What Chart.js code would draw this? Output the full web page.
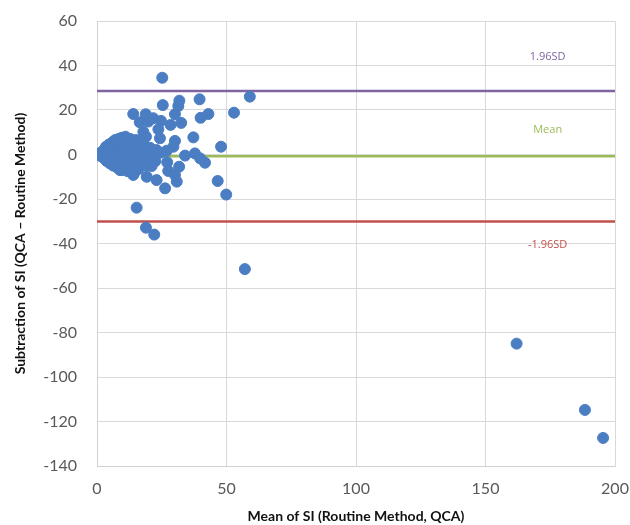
<!DOCTYPE html>
<html lang="en">
<head>
  <meta charset="UTF-8">
  <title>Bland-Altman SI</title>
  <script src="https://cdn.jsdelivr.net/npm/chart.js"></script>
  <style>
    html, body { margin: 0; padding: 0; background: #fff; }
    #wrap { width: 630px; height: 525px; }
  </style>
</head>
<body>
  <div id="wrap"><canvas id="baChart" width="630" height="525"></canvas></div>

  <script>
    // mean of the two methods (x) and their difference (y)
    const meanSI = [
      0.5, 1, 1.5, 2, 2.2, 2.8, 3, 3,
      3.5, 3.8, 4, 4.3, 4.6, 5, 5.2, 5.5, 5.8, 6, 6,
      6.3, 6.5, 6.8, 7, 7.2, 7.4, 7.7, 8, 8, 8.3, 8.5, 8.8, 9, 9,
      9.5, 9.6, 9.8, 10, 10.3, 10.5, 10.8, 11, 11, 11.3, 11.6, 11.8, 12,
      12.3, 12.5, 12.8, 13, 13.2, 13.5, 13.8, 14, 14.2, 14.5, 14.8, 15,
      15.3, 15.6, 16, 16.3, 16.6, 17, 17.4, 17.8, 18.2, 18.6, 19, 19.5, 20, 20.5,
      21.5, 23, 22.5, 24.5,
      25.2, 59, 25.4, 31.8, 31.4, 39.6, 14, 18.8, 30.1, 43, 52.9, 40,
      16.5, 19.8, 21.7, 24.7, 28.4, 32.5, 17.9, 23.7, 18.9, 24.3, 30.1, 37.2,
      29.5, 26.9, 47.9, 34, 37.8, 39.8, 41.7, 21.1, 27.1, 31.7, 27.5, 30.1,
      30.8, 23, 26.3, 19.2, 14, 8.9, 46.6, 49.9, 15.3, 18.9, 22.1,
      57.1, 162, 188.4, 195.4
    ];
    const diffSI = [
      0.2, -0.5, 0.8, -1, 1.5, 0, -2, 2.2,
      3.5, -3, 1, -1.2, 4.5, -4, 2.3, 0, -2.5, 5.5, 3,
      -5, 1.5, -1, 6.5, 4, -3.5, 2, -6, 0.5, 7, -2, 5, -4.5, 3,
      7.5, -7, 1, -1.5, 5.5, -5.5, 3.5, 8, -3, 0, 6, -7.5, 2,
      -4, 4.5, 7, -1, -6, 1.5, 5.5, -2.5, 3, -8, 0, 6.5,
      -4, 2, -6.5, 4, -1.5, 1, -3, 5, -0.5, 2.5, -5, 1, -2, 3,
      -0.5, 2, -3, 0.8,
      34.5, 26, 22.2, 24.2, 21.8, 24.8, 18.2, 18.1, 18.1, 18.2, 18.8, 16.5,
      14.5, 14.8, 16.3, 15.1, 13.3, 14.2, 10.2, 11.3, 8, 7.3, 6.1, 7.7,
      3.5, 1.7, 3.5, -0.5, 0.5, -1.7, -3.7, -5.2, -3.5, -5.5, -7.4, -9.2,
      -12.2, -11.5, -15.2, -10, -9.2, -7, -11.9, -18, -23.9, -32.9, -36,
      -51.5, -85, -114.8, -127.4
    ];

    // limits of agreement
    const refNames = ['1.96SD', 'Mean', '-1.96SD'];
    const refValues = [28.5, -0.8, -30.1];
    const refColors = ['#8064a2', '#9bbb59', '#c0504d'];
    const refLabelY = [43.8, 11, -40.7];
    const refLabelX = 174;

    const xTicks = [0, 50, 100, 150, 200];
    const yTicks = [-140, -120, -100, -80, -60, -40, -20, 0, 20, 40, 60];

    const points = meanSI.map((m, i) => ({ x: m, y: diffSI[i] }));

    const refSets = refValues.map((v, i) => ({
      type: 'line',
      label: refNames[i],
      data: [{ x: xTicks[0], y: v }, { x: xTicks[xTicks.length - 1], y: v }],
      borderColor: refColors[i],
      borderWidth: 2.5,
      pointRadius: 0,
      fill: false,
      order: 2
    }));

    const refLabels = {
      id: 'refLabels',
      afterDatasetsDraw(chart) {
        const { ctx, scales } = chart;
        ctx.save();
        ctx.font = '11px "Open Sans", sans-serif';
        ctx.textAlign = 'center';
        ctx.textBaseline = 'middle';
        refNames.forEach((name, i) => {
          ctx.fillStyle = refColors[i];
          ctx.fillText(name, scales.x.getPixelForValue(refLabelX), scales.y.getPixelForValue(refLabelY[i]));
        });
        ctx.restore();
      }
    };

    // let the layout padding alone decide the plot edges
    function noOverhang(s) {
      s.paddingTop = 0;
      s.paddingBottom = 0;
      s.paddingLeft = 0;
      s.paddingRight = 0;
    }

    const ctx = document.getElementById('baChart').getContext('2d');
    new Chart(ctx, {
      type: 'scatter',
      data: {
        datasets: [
          {
            label: 'SI',
            data: points,
            backgroundColor: '#4a7dc2',
            borderColor: '#4a7dc2',
            pointRadius: 5.5,
            pointHoverRadius: 5.5,
            order: 1
          },
          ...refSets
        ]
      },
      options: {
        responsive: false,
        animation: false,
        layout: { padding: { top: 21, right: 15, left: 12, bottom: 0 } },
        plugins: {
          legend: { display: false },
          tooltip: { enabled: false }
        },
        scales: {
          x: {
            type: 'linear',
            min: 0,
            max: 200,
            afterBuildTicks: s => { s.ticks = xTicks.map(v => ({ value: v })); },
            afterFit: s => { s.height = 59; noOverhang(s); },
            grid: { color: '#d9d9d9', drawTicks: false },
            border: { color: '#d0d0d0' },
            ticks: { color: '#595959', font: { family: 'Lato', size: 16 }, padding: 13 },
            title: {
              display: true,
              text: 'Mean of SI (Routine Method, QCA)',
              color: '#111',
              font: { family: 'Lato', size: 14, weight: 'bold' },
              padding: { top: 3, bottom: 0 }
            }
          },
          y: {
            min: -140,
            max: 60,
            afterBuildTicks: s => { s.ticks = yTicks.map(v => ({ value: v })); },
            afterFit: s => { s.width = 85; noOverhang(s); },
            grid: { color: '#d9d9d9', drawTicks: false },
            border: { color: '#d0d0d0' },
            ticks: { color: '#595959', font: { family: 'Lato', size: 16 }, padding: 20 },
            title: {
              display: true,
              text: 'Subtraction of SI (QCA – Routine Method)',
              color: '#111',
              font: { family: 'Lato', size: 14, weight: 'bold' },
              padding: { top: 0, bottom: 0 }
            }
          }
        }
      },
      plugins: [refLabels]
    });
  </script>
</body>
</html>
